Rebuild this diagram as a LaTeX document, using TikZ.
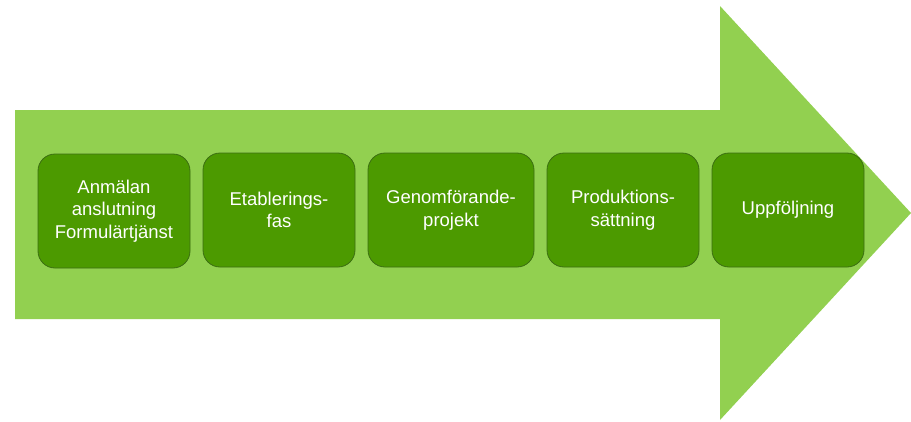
\documentclass[tikz,border=0pt]{standalone}
\usepackage{fontspec}
\setmainfont{Liberation Sans}
\definecolor{arrowgreen}{HTML}{92D050}
\definecolor{boxgreen}{HTML}{4C9A00}
\definecolor{boxedge}{HTML}{3B6E12}
\begin{document}
\begin{tikzpicture}[x=1pt,y=-1pt,
  stage/.style={draw=boxedge, line width=0.8pt, fill=boxgreen, rounded corners=17pt,
    text=white, align=center, font=\fontsize{18.5}{22.5}\selectfont}]
\useasboundingbox (0,0) rectangle (911,421);
\fill[arrowgreen] (15,110) -- (720,110) -- (720,6) -- (911,213) -- (720,420) -- (720,319) -- (15,319) -- cycle;
\node[stage, minimum width=152pt, minimum height=114pt] (s1) at (114,211) {Anmälan\\anslutning\\Formulärtjänst};
\node[stage, minimum width=152pt, minimum height=114pt] (s2) at (279,210) {Etablerings-\\fas};
\node[stage, minimum width=166pt, minimum height=114pt] (s3) at (451,210) {Genomförande-\\projekt};
\node[stage, minimum width=152pt, minimum height=114pt] (s4) at (623,210) {Produktions-\\sättning};
\node[stage, minimum width=152pt, minimum height=114pt] (s5) at (788,210) {Uppföljning};
\end{tikzpicture}
\end{document}
